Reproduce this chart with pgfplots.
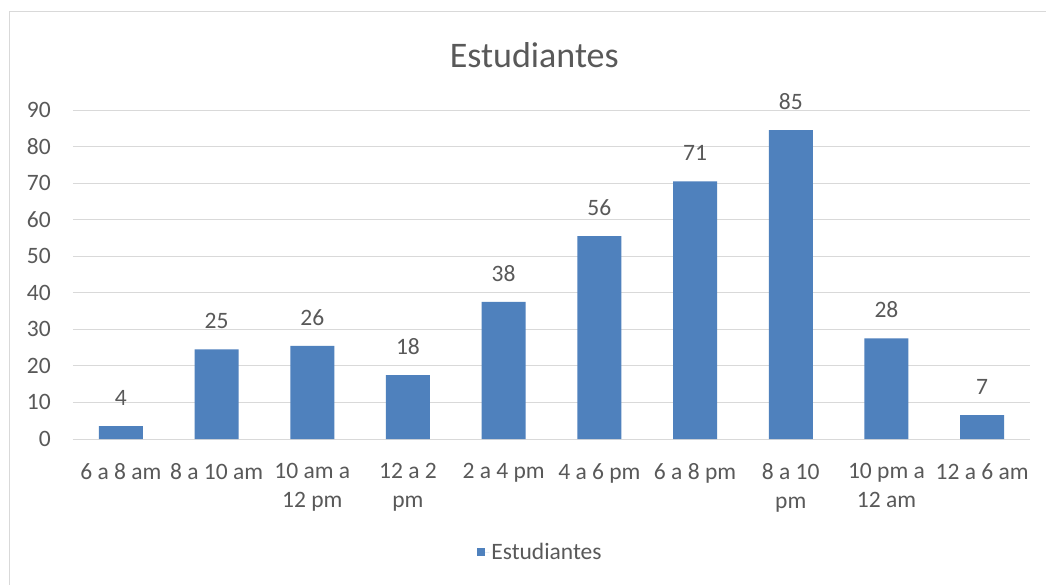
\documentclass[border=0pt]{standalone}
\usepackage{pgfplots}
\pgfplotsset{compat=1.18}
\usepackage{fontspec}
\setmainfont{Carlito}
\definecolor{barblue}{HTML}{4F81BD}
\definecolor{txtgray}{HTML}{595959}
\definecolor{linegray}{HTML}{D9D9D9}
\begin{document}
\begin{tikzpicture}[x=1pt,y=1pt]
	% picture = 1046 x 584, axis origin at (73,439) px from top left
	\useasboundingbox (-73,-145) rectangle (973,439);
	\fill[white] (-73,-145) rectangle (973,439);
	\draw[linegray, line width=1pt] (-63,427) rectangle (990,-160);
	\begin{axis}[
	at={(0,0)}, anchor=south west,
	scale only axis,
	width=957pt, height=329pt,
	xmin=-0.5, xmax=9.5,
	ymin=0, ymax=90,
	axis x line*=bottom,
	axis y line*=left,
	x axis line style={draw=linegray, line width=1pt},
	y axis line style={draw=none},
	ytick={0,10,...,90},
	ytick style={draw=none},
	ymajorgrids=true,
	grid style={draw=linegray, line width=1pt},
	xtick={0,...,9},
	xticklabels={6 a 8 am, 8 a 10 am, 10 am a\\12 pm, 12 a 2\\pm, 2 a 4 pm, 4 a 6 pm, 6 a 8 pm, 8 a 10\\pm, 10 pm a\\12 am, 12 a 6 am},
	x tick style={draw=none},
	extra x ticks={-0.5,0.5,...,9.5},
	extra x tick labels={},
	extra x tick style={grid=none, tick align=outside, major tick length=7pt,
		tick style={draw=linegray, line width=1pt}},
	tick label style={font=\fontsize{23.5}{28.5}\selectfont, text=txtgray},
	/pgf/number format/assume math mode=true,
	yticklabel style={anchor=east, inner sep=0pt, xshift=-22pt},
	% first line's top sits about 24pt below the axis line
	xticklabel style={align=center, anchor=north, inner sep=0pt, yshift=-24.5pt},
	title={Estudiantes},
	title style={at={(0.482,1)}, anchor=base, yshift=37pt, inner sep=0pt,
		font=\fontsize{36}{43}\selectfont, text=txtgray},
	legend style={at={(0.4885,-0.3435)}, anchor=center, draw=none, fill=none,
		font=\fontsize{23.5}{28.5}\selectfont, text=txtgray},
	]
		\addplot [ybar, bar width=44pt, fill=barblue, draw=none,
			nodes near coords, point meta=explicit symbolic,
			nodes near coords style={anchor=base, yshift=20.5pt, inner sep=0pt,
				font=\fontsize{23.5}{28.5}\selectfont, text=txtgray},
			legend image code/.code={\fill[barblue] (0pt,-4pt) rectangle (8pt,4pt);
				\path (0pt,0pt) -- (12pt,0pt);}]
		coordinates {
			(0,3.5) [4]
			(1,24.5) [25]
			(2,25.5) [26]
			(3,17.5) [18]
			(4,37.5) [38]
			(5,55.5) [56]
			(6,70.5) [71]
			(7,84.5) [85]
			(8,27.5) [28]
			(9,6.5) [7]
		};
		\addlegendentry{Estudiantes}
	\end{axis}
\end{tikzpicture}
\end{document}
